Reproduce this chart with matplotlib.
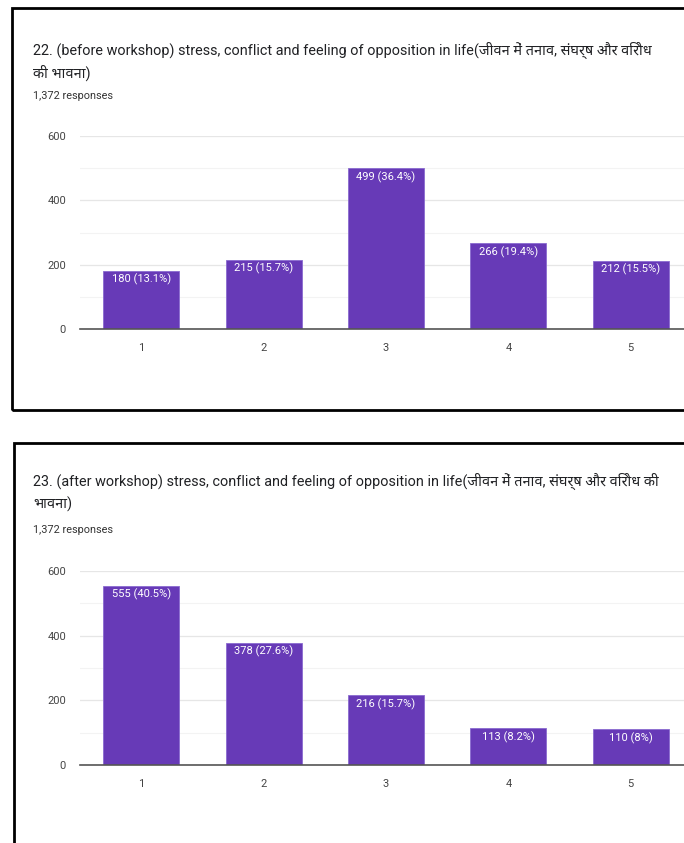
import matplotlib.pyplot as plt
from matplotlib.patches import Rectangle

plt.rcParams['font.family'] = ['Roboto', 'Noto Sans', 'DejaVu Sans']

# Survey answers (scale 1-5) before and after the workshop
options = [1, 2, 3, 4, 5]
before_counts = [180, 215, 499, 266, 212]
before_pct = ['13.1%', '15.7%', '36.4%', '19.4%', '15.5%']
after_counts = [555, 378, 216, 113, 110]
after_pct = ['40.5%', '27.6%', '15.7%', '8.2%', '8%']
n_responses = '1,372 responses'

title_before = ['22. (before workshop) stress, conflict and feeling of opposition in life(जीवन में तनाव, संघर्ष और विरोध',
                'की भावना)']
title_after = ['23. (after workshop) stress, conflict and feeling of opposition in life(जीवन में तनाव, संघर्ष और विरोध की',
               'भावना)']

W, H = 684, 843
fig = plt.figure(figsize=(W / 100, H / 100), dpi=100)
fig.patch.set_facecolor('white')

purple = '#673ab7'


def fx(px):
    return px / W


def fy(py):
    return 1 - py / H


def draw_panel(top, left, counts, pct, title, t_y, zero_y, top_y):
    # outer frame
    fig.patches.append(Rectangle((fx(left), fy(top[1])), fx(W + 20 - left), fy(top[0]) - fy(top[1]),
                                 transform=fig.transFigure, fill=False, edgecolor='black', lw=2))
    fig.text(fx(33), fy(t_y[0]), title[0], fontsize=10.4, color='#202124', va='baseline')
    fig.text(fx(33), fy(t_y[1]), title[1], fontsize=10.4, color='#202124', va='baseline')
    fig.text(fx(33), fy(t_y[2]), n_responses, fontsize=7.8, color='#333333', va='baseline')

    ax = fig.add_axes([fx(80), fy(zero_y), fx(692 - 80), fy(top_y) - fy(zero_y)])
    bars = ax.bar(options, counts, width=0.62, color=purple, edgecolor='#8a6ad0', lw=0.6, zorder=3)
    for b, c, p in zip(bars, counts, pct):
        ax.text(b.get_x() + b.get_width() / 2, c - 9, f'{c} ({p})', ha='center', va='top',
                color='white', fontsize=8, zorder=4)
    ax.set_xlim(0.5, 5.5)
    ax.set_ylim(0, 600)
    ax.set_yticks([0, 200, 400, 600])
    ax.set_yticks([100, 300, 500], minor=True)
    ax.set_xticks(options)
    ax.grid(axis='y', which='major', color='#e6e6e6', lw=0.9, zorder=0)
    ax.grid(axis='y', which='minor', color='#f3f3f3', lw=0.8, zorder=0)
    for s in ['top', 'right', 'left']:
        ax.spines[s].set_visible(False)
    ax.spines['bottom'].set_color('#555555')
    ax.spines['bottom'].set_linewidth(1.2)
    ax.spines['bottom'].set_zorder(5)
    ax.tick_params(axis='both', which='both', length=0, labelsize=8, labelcolor='#444444')
    ax.tick_params(axis='y', pad=10)
    ax.tick_params(axis='x', pad=10)
    return ax


draw_panel((8, 410), 12, before_counts, before_pct, title_before, (55, 78, 99), 329, 136)
draw_panel((443, H + 20), 14, after_counts, after_pct, title_after, (486, 509, 533), 765, 571)

fig.savefig('out.png', dpi=100)
